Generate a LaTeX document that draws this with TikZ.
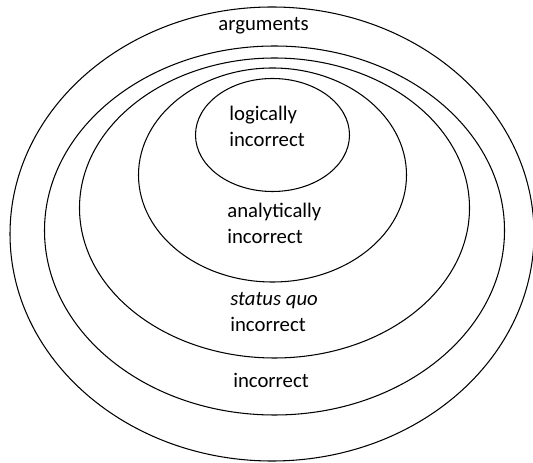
\documentclass[tikz,border=0pt]{standalone}
\usepackage{fontspec}
\setmainfont{Carlito}
\usepackage{tikz}
\usetikzlibrary{positioning}

\begin{document}
\begin{tikzpicture}[
  ring/.style={draw, line width=0.6pt},
  lbl/.style={inner sep=0pt, align=left, font=\fontsize{11.8}{14.8}\selectfont}
]
\useasboundingbox (0,0) rectangle (10.66,9.24);

% Nested sets
\draw[ring] (5.44,4.56) ellipse [x radius=5.24, y radius=4.54];
\draw[ring] (5.49,4.63) ellipse [x radius=4.60, y radius=3.69];
\draw[ring] (5.49,5.08) ellipse [x radius=3.90, y radius=3.00];
\draw[ring] (5.45,5.74) ellipse [x radius=2.68, y radius=2.14];
\draw[ring] (5.45,6.54) ellipse [x radius=1.54, y radius=1.13];

% Labels
\node[lbl] (args) at (5.27,8.72) {arguments};
\node[lbl, anchor=west] (logic) at (4.58,6.72) {logically\\incorrect};
\node[lbl, anchor=west] (analyt) at (4.54,4.78) {analytically\\incorrect};
\node[lbl, anchor=west] (squo) at (4.60,3.00) {\textit{status quo}\\incorrect};
\node[lbl] (incor) at (5.42,1.64) {incorrect};
\end{tikzpicture}
\end{document}
